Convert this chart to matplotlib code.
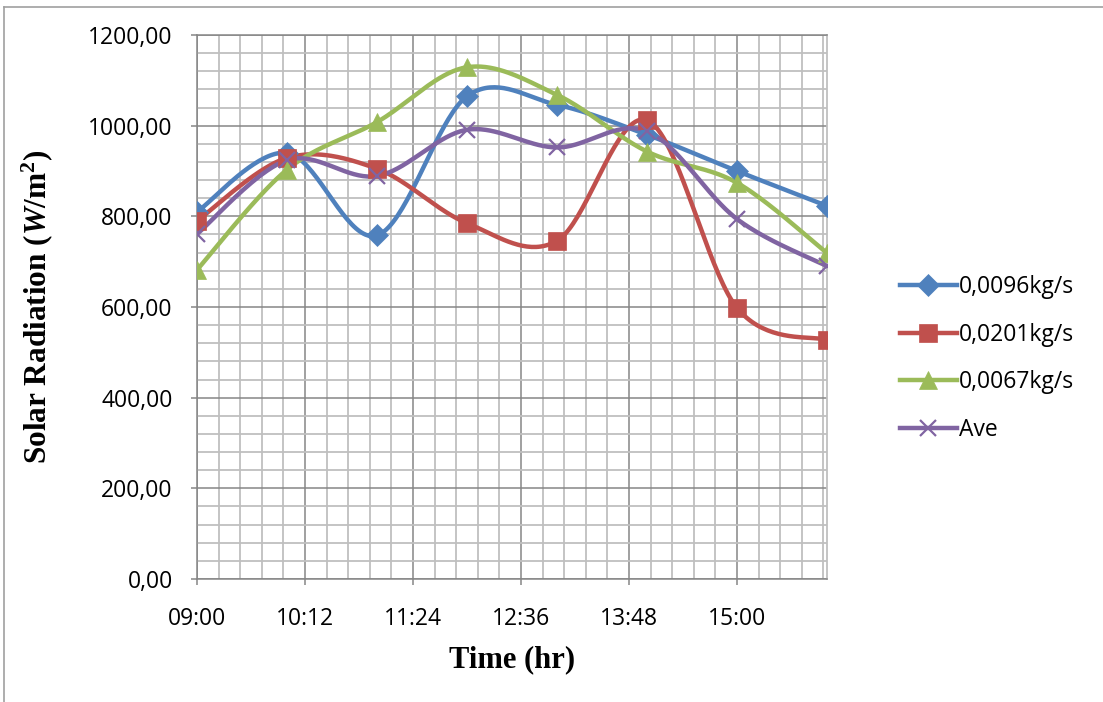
import numpy as np
import matplotlib
matplotlib.use("Agg")
import matplotlib.pyplot as plt
from matplotlib.ticker import FixedLocator, FuncFormatter
from matplotlib.lines import Line2D

# hours of the day for each reading
hours = [9, 10, 11, 12, 13, 14, 15, 16]

flow_0096 = [810, 940, 758, 1065, 1046, 980, 900, 823]
flow_0201 = [790, 929, 905, 785, 746, 1012, 598, 527]
flow_0067 = [682, 903, 1008, 1129, 1068, 943, 874, 719]
average = [761, 924, 889, 991, 952, 988, 794, 690]

labels = ["0,0096kg/s", "0,0201kg/s", "0,0067kg/s", "Ave"]
colors = ["#4F81BD", "#C0504D", "#9BBB59", "#8064A2"]
markers = ["D", "s", "^", "x"]
msizes = [11, 13, 13, 11.5]

plt.rcParams["mathtext.fontset"] = "custom"
plt.rcParams["mathtext.rm"] = "Liberation Serif:bold"
plt.rcParams["mathtext.it"] = "Liberation Serif:bold:italic"
plt.rcParams["mathtext.bf"] = "Liberation Serif:bold"


def smooth(x, y, n=40):
    # Catmull-Rom style bezier between consecutive points
    x = np.asarray(x, float)
    y = np.asarray(y, float)
    px = np.concatenate([[x[0]], x, [x[-1]]])
    py = np.concatenate([[y[0]], y, [y[-1]]])
    xs, ys = [], []
    t = np.linspace(0, 1, n)
    for i in range(1, len(px) - 2):
        p0 = np.array([px[i], py[i]])
        p3 = np.array([px[i + 1], py[i + 1]])
        c1 = p0 + (p3 - np.array([px[i - 1], py[i - 1]])) / 6
        c2 = p3 - (np.array([px[i + 2], py[i + 2]]) - p0) / 6
        b = ((1 - t) ** 3)[:, None] * p0 + (3 * (1 - t) ** 2 * t)[:, None] * c1 \
            + (3 * (1 - t) * t ** 2)[:, None] * c2 + (t ** 3)[:, None] * p3
        xs.append(b[:, 0])
        ys.append(b[:, 1])
    return np.concatenate(xs), np.concatenate(ys)


fig = plt.figure(figsize=(11.03, 7.02), dpi=100)
ax = fig.add_axes([0.1786, 0.1752, 0.5712, 0.7749])

series = [flow_0096, flow_0201, flow_0067, average]
handles = []
for vals, lab, col, mk, ms in zip(series, labels, colors, markers, msizes):
    sx, sy = smooth(hours, vals)
    ax.plot(sx, sy, color=col, linewidth=3.2, solid_capstyle="round", zorder=3)
    ax.plot(hours, vals, linestyle="none", marker=mk, markersize=ms, color=col,
            markeredgewidth=1.6 if mk == "x" else 0.5, zorder=4)
    handles.append(Line2D([], [], color=col, linewidth=3.2, marker=mk, markersize=ms,
                          markeredgewidth=1.6 if mk == "x" else 0.5))

ax.set_xlim(9, 16)
ax.set_ylim(0, 1200)

# time axis starts at 09:00, major step 1:12, minor step 0:14:24
ax.xaxis.set_major_locator(FixedLocator([9 + 1.2 * k for k in range(6)]))
ax.xaxis.set_minor_locator(FixedLocator([9 + 0.24 * k for k in range(30)]))
ax.yaxis.set_major_locator(FixedLocator(range(0, 1201, 200)))
ax.yaxis.set_minor_locator(FixedLocator(range(0, 1201, 40)))


def hhmm(v, pos):
    m = int(round(v * 60))
    return "%02d:%02d" % (m // 60, m % 60)


ax.xaxis.set_major_formatter(FuncFormatter(hhmm))
ax.yaxis.set_major_formatter(FuncFormatter(lambda v, p: ("%.2f" % v).replace(".", ",")))

ax.grid(which="major", color="#868686", linewidth=1.1, zorder=0)
ax.grid(which="minor", color="#BFBFBF", linewidth=1.3, zorder=0)
ax.set_axisbelow(True)

for s in ["left", "bottom", "top"]:
    ax.spines[s].set_color("#868686")
    ax.spines[s].set_linewidth(1.1)
ax.spines["right"].set_color("#BFBFBF")
ax.spines["right"].set_linewidth(1.3)

ax.tick_params(which="major", length=4.5, color="#868686", width=1.1, labelsize=16.5)
ax.tick_params(axis="x", which="major", pad=16)
ax.tick_params(axis="y", which="major", pad=13)
ax.tick_params(which="minor", length=0)
for lbl in ax.get_xticklabels() + ax.get_yticklabels():
    lbl.set_fontfamily("Open Sans")

ax.set_xlabel("Time (hr)", fontfamily="Liberation Serif", fontweight="bold",
              fontsize=22, labelpad=10)
ax.set_ylabel(r"Solar Radiation ($\mathit{W}$/m$^2$)", fontfamily="Liberation Serif",
              fontweight="bold", fontsize=22.5, labelpad=24)

fig.legend(handles, labels, loc="upper left", bbox_to_anchor=(0.797, 0.637),
           frameon=False, handlelength=2.5, labelspacing=1.02, handletextpad=0.1,
           prop={"family": "Open Sans", "size": 16.5})

# outer chart border
fig.add_artist(Line2D([0.004, 0.004], [0, 0.99], transform=fig.transFigure,
                      color="#A0A0A0", linewidth=1.2))
fig.add_artist(Line2D([0.004, 1.0], [0.99, 0.99], transform=fig.transFigure,
                      color="#A0A0A0", linewidth=1.2))

fig.savefig("out.png", dpi=100)
